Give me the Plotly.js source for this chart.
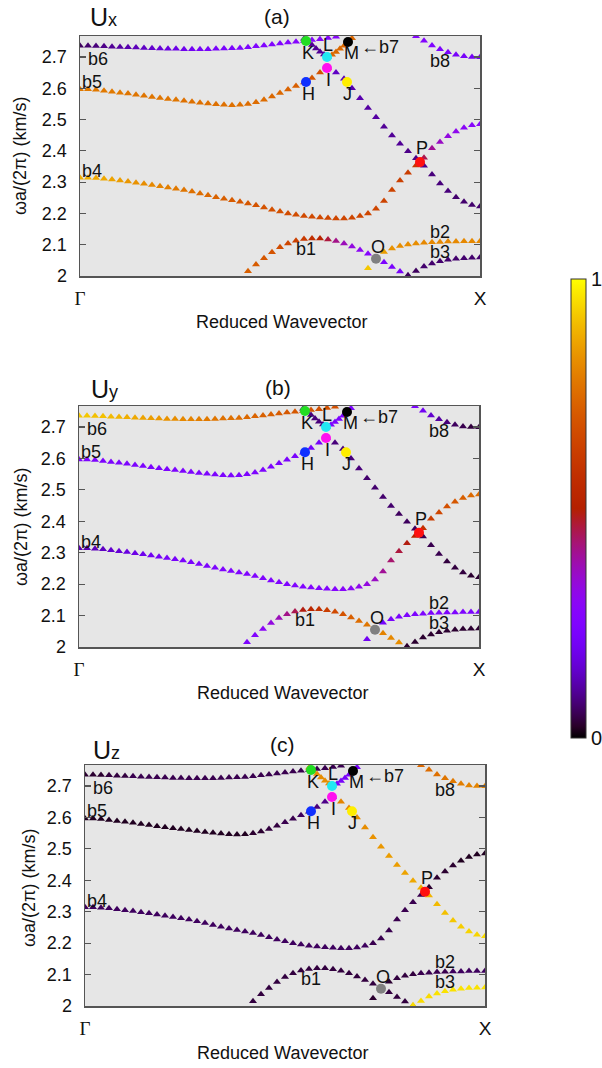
<!DOCTYPE html>
<html><head><meta charset="utf-8">
<script src="https://cdn.plot.ly/plotly-3.0.1.min.js"></script>
<style>body{margin:0;padding:0;background:#fff}#chart{width:602px;height:1068px}</style>
</head><body><div id="chart"></div>
<script>
// ---------------- data ----------------
const kGrid = [0,0.02,0.04,0.06,0.08,0.10,0.12,0.14,0.16,0.18,0.20,0.22,0.24,0.26,0.28,0.30,0.32,0.34,0.36,0.38,0.40,0.42,0.44,0.46,0.48,0.50,0.52,0.54,0.56,0.58,0.60,0.62,0.64,0.66,0.68,0.70,0.72,0.74,0.76,0.78,0.80,0.82,0.84,0.86,0.88,0.90,0.92,0.94,0.96,0.98,1.00];
const b6K = [0,0.02,0.04,0.06,0.08,0.10,0.12,0.14,0.16,0.18,0.20,0.22,0.24,0.26,0.28,0.30,0.32,0.34,0.36,0.38,0.40,0.42,0.44,0.46,0.48,0.50,0.52,0.54,0.56,0.58,0.60,0.62,0.64];
const b1K = [0.42,0.44,0.46,0.48,0.50,0.52,0.54,0.56,0.58,0.60,0.62,0.64,0.66,0.68,0.70,0.72,0.74,0.76,0.78,0.80,0.82];
const b2K = [0.72,0.74,0.76,0.78,0.80,0.82,0.84,0.86,0.88,0.90,0.92,0.94,0.96,0.98,1.00];
const b3K = [0.82,0.84,0.86,0.88,0.90,0.92,0.94,0.96,0.98,1.00];
const b8K = [0.84,0.86,0.88,0.90,0.92,0.94,0.96,0.98,1.00];
const b7K = [0.56,0.57,0.58,0.59,0.60,0.61,0.62,0.63,0.64,0.65,0.66,0.67,0.68];

// frequencies ωa/(2π) (km/s)
const b4F = [2.314,2.314,2.313,2.311,2.308,2.305,2.302,2.298,2.295,2.291,2.287,2.283,2.279,2.275,2.270,2.264,2.258,2.252,2.247,2.242,2.237,2.232,2.226,2.219,2.212,2.206,2.200,2.196,2.192,2.189,2.187,2.185,2.184,2.184,2.186,2.192,2.200,2.215,2.240,2.275,2.305,2.330,2.353,2.378,2.408,2.428,2.447,2.462,2.474,2.482,2.485];
const b5F = [2.597,2.597,2.595,2.592,2.589,2.586,2.583,2.579,2.576,2.572,2.569,2.566,2.563,2.560,2.557,2.554,2.551,2.549,2.547,2.546,2.547,2.550,2.555,2.563,2.574,2.585,2.596,2.607,2.618,2.633,2.650,2.665,2.650,2.630,2.600,2.568,2.537,2.507,2.477,2.449,2.423,2.399,2.376,2.352,2.324,2.296,2.272,2.252,2.237,2.227,2.222];
const b6F = [2.736,2.736,2.735,2.734,2.733,2.732,2.731,2.730,2.729,2.728,2.727,2.726,2.726,2.725,2.725,2.725,2.725,2.726,2.727,2.728,2.729,2.731,2.734,2.737,2.740,2.743,2.746,2.749,2.751,2.754,2.757,2.761,2.765];
const b1F = [2.015,2.037,2.057,2.076,2.092,2.104,2.113,2.118,2.120,2.120,2.117,2.112,2.104,2.094,2.083,2.071,2.058,2.044,2.029,2.014,2.000];
const b2F = [2.025,2.056,2.077,2.088,2.096,2.101,2.104,2.106,2.108,2.109,2.110,2.110,2.111,2.111,2.111];
const b3F = [2.002,2.016,2.030,2.040,2.047,2.052,2.055,2.057,2.058,2.059];
const b8F = [2.766,2.752,2.737,2.725,2.715,2.707,2.702,2.700,2.699];
const b7F = [2.758,2.748,2.738,2.727,2.717,2.708,2.701,2.707,2.716,2.726,2.736,2.747,2.760];

// polarization fractions, panel (a) Ux
const uxB4 = [.88,.88,.87,.87,.86,.85,.84,.83,.82,.81,.80,.79,.78,.77,.76,.75,.74,.73,.72,.71,.70,.70,.69,.69,.68,.68,.67,.67,.66,.66,.66,.65,.65,.65,.65,.65,.65,.65,.64,.64,.63,.62,.60,.45,.40,.36,.33,.31,.29,.28,.28];
const uxB5 = [.78,.78,.78,.78,.78,.78,.77,.77,.77,.77,.77,.77,.77,.76,.76,.76,.76,.76,.76,.76,.76,.75,.75,.75,.74,.74,.73,.72,.71,.70,.69,.68,.14,.13,.12,.12,.11,.11,.10,.10,.10,.09,.09,.09,.08,.08,.08,.07,.07,.07,.07];
const uxB6 = [.06,.07,.08,.09,.10,.11,.12,.13,.14,.15,.16,.17,.18,.19,.20,.21,.22,.22,.23,.23,.24,.24,.25,.25,.26,.26,.26,.27,.27,.27,.28,.28,.28];
const uxB1 = [.72,.71,.70,.69,.67,.65,.63,.61,.57,.52,.46,.41,.37,.33,.30,.27,.25,.24,.23,.22,.22];
const uxB2 = [.92,.88,.85,.83,.82,.82,.82,.81,.81,.81,.81,.81,.81,.81,.81];
const uxB3 = [.06,.06,.07,.07,.07,.07,.07,.07,.07,.07];
const uxB8 = [.27,.26,.25,.24,.23,.22,.22,.21,.21];
const uxB7 = [.10,.10,.10,.10,.10,.10,.10,.74,.74,.74,.74,.74,.74];

// panel (b) Uy
const uyB4 = [.12,.12,.13,.14,.15,.16,.17,.18,.19,.20,.21,.22,.22,.23,.23,.24,.24,.24,.25,.25,.25,.25,.25,.25,.25,.25,.25,.25,.25,.26,.26,.26,.27,.28,.29,.31,.33,.36,.40,.43,.46,.49,.52,.58,.62,.65,.68,.70,.72,.74,.75];
const uyB5 = [.24,.24,.24,.24,.24,.24,.24,.24,.24,.24,.24,.24,.24,.24,.24,.24,.24,.24,.24,.24,.24,.24,.24,.24,.24,.23,.23,.23,.23,.22,.22,.22,.08,.08,.08,.08,.07,.07,.07,.07,.06,.06,.06,.05,.05,.05,.04,.04,.04,.03,.03];
const uyB6 = [.92,.92,.91,.91,.90,.89,.88,.87,.86,.85,.84,.83,.82,.81,.80,.79,.78,.77,.76,.76,.75,.74,.73,.72,.72,.71,.70,.70,.69,.69,.68,.68,.68];
const uyB1 = [.24,.26,.29,.33,.37,.41,.45,.49,.54,.58,.62,.66,.69,.72,.75,.77,.79,.80,.81,.82,.82];
const uyB2 = [.20,.21,.22,.23,.23,.24,.24,.24,.24,.24,.24,.24,.24,.24,.24];
const uyB3 = [.03,.03,.03,.03,.03,.03,.03,.03,.03,.03];
const uyB8 = [.24,.20,.15,.11,.08,.06,.05,.04,.04];
const uyB7 = [.08,.08,.08,.08,.08,.08,.08,.24,.24,.24,.24,.24,.24];

// panel (c) Uz
const uzB4 = [.06,.06,.06,.06,.06,.06,.06,.06,.06,.06,.06,.06,.06,.06,.06,.06,.06,.06,.06,.06,.06,.06,.06,.06,.06,.06,.06,.06,.06,.06,.06,.06,.06,.06,.06,.06,.05,.05,.05,.05,.05,.05,.05,.03,.03,.03,.03,.02,.02,.02,.02];
const uzB5 = [.02,.02,.02,.02,.02,.02,.02,.02,.02,.02,.02,.02,.02,.02,.02,.02,.02,.02,.02,.02,.02,.03,.03,.04,.04,.05,.05,.06,.07,.08,.09,.10,.80,.81,.82,.82,.83,.84,.85,.85,.86,.87,.88,.89,.90,.91,.92,.93,.94,.94,.95];
const uzB6 = [.03,.03,.03,.04,.04,.04,.05,.05,.05,.05,.05,.05,.05,.05,.05,.05,.05,.05,.05,.05,.05,.05,.05,.05,.05,.05,.05,.05,.05,.05,.05,.05,.05];
const uzB1 = [.04,.04,.04,.04,.04,.04,.04,.04,.04,.04,.04,.04,.04,.04,.04,.04,.04,.04,.04,.04,.04];
const uzB2 = [.03,.03,.03,.04,.04,.04,.05,.05,.05,.05,.06,.06,.06,.06,.06];
const uzB3 = [.95,.95,.95,.96,.96,.96,.96,.96,.96,.96];
const uzB8 = [.74,.75,.76,.77,.78,.79,.80,.80,.80];
const uzB7 = [.82,.82,.82,.82,.82,.82,.82,.22,.22,.22,.22,.22,.22];

// labelled points
const ptNames = ['K','L','M','H','I','J','P','O'];
const ptK = [0.565,0.6175,0.67,0.565,0.6175,0.6675,0.85,0.74];
const ptF = [2.751,2.700,2.748,2.620,2.665,2.620,2.364,2.055];
const ptColors = ['#22dd22','#22e8f2','#000000','#1030ff','#ff10f0','#ffee00','#ff1010','#808080'];

// band labels
const bandNames = ['b1','b2','b3','b4','b5','b6','b8','←b7'];
const bandLabK = [0.565,0.90,0.90,0.03,0.03,0.045,0.90,0.75];
const bandLabF = [2.086,2.140,2.077,2.335,2.620,2.693,2.687,2.731];

const yTickVals = [2,2.1,2.2,2.3,2.4,2.5,2.6,2.7];
const yTickText = ['2','2.1','2.2','2.3','2.4','2.5','2.6','2.7'];
const xTickVals = [0,1];
const xTickText = ['<span style="font-family:Liberation Serif,serif">Γ</span>','X'];
const panelComp = ['x','y','z'];
const panelTags = ['(a)','(b)','(c)'];
const cbTickVals = [0,1];
const cbDashVals = [0.2,0.4,0.6,0.8];

// ---------------- layout / build ----------------
const W = 602, H = 1068;
const px = v => v / W, py = v => 1 - v / H;

const bandSets = [
  {k:kGrid, f:b4F, c:[uxB4,uyB4,uzB4]},
  {k:kGrid, f:b5F, c:[uxB5,uyB5,uzB5]},
  {k:b6K,   f:b6F, c:[uxB6,uyB6,uzB6]},
  {k:b1K,   f:b1F, c:[uxB1,uyB1,uzB1]},
  {k:b2K,   f:b2F, c:[uxB2,uyB2,uzB2]},
  {k:b3K,   f:b3F, c:[uxB3,uyB3,uzB3]},
  {k:b8K,   f:b8F, c:[uxB8,uyB8,uzB8]},
  {k:b7K,   f:b7F, c:[uxB7,uyB7,uzB7]}
];

// pixel boxes of the three plot areas
const boxes = [
  {x0:80, x1:480, y0:36,  y1:276,  title:[88,17],  tag:[277,17],  ytitle:[20,156], xtitle:[281,322]},
  {x0:79, x1:479, y0:406, y1:647,  title:[89,389], tag:[278,387], ytitle:[21,527], xtitle:[282,693]},
  {x0:85, x1:485, y0:765, y1:1006, title:[91,750], tag:[282,744], ytitle:[29,888], xtitle:[282,1053]}
];
const ptOffsets = {K:[2,-12],L:[1,12],M:[3,-11],H:[2,-12],I:[1,-12],J:[0,-12],P:[2,14],O:[2,12]};

function gnu(v){
  const r = Math.sqrt(v), g = v*v*v, b = Math.max(0, Math.sin(2*Math.PI*v));
  return 'rgb(' + Math.round(r*255) + ',' + Math.round(g*255) + ',' + Math.round(b*255) + ')';
}
const palette = [];
for (let i = 0; i <= 40; i++) palette.push([i/40, gnu(i/40)]);

const traces = [];
const layout = {
  width: W, height: H,
  margin: {l:0, r:0, t:0, b:0},
  paper_bgcolor: '#ffffff',
  plot_bgcolor: '#e6e6e6',
  font: {family: 'Liberation Sans, Arial, sans-serif', color: '#111', size: 18},
  showlegend: false,
  annotations: [],
  shapes: [],
  coloraxis: {
    cmin: 0, cmax: 1, colorscale: palette,
    colorbar: {
      x: px(571), xanchor: 'left', y: py(279), yanchor: 'top',
      len: 459 / H, lenmode: 'fraction', thickness: 15, thicknessmode: 'pixels',
      outlinewidth: 1, outlinecolor: '#333', xpad: 0, ypad: 0,
      tickvals: cbTickVals, ticktext: cbTickVals.map(String), ticks: '',
      tickfont: {size: 20, color: '#111'}, ticklabelstandoff: 1
    }
  }
};

boxes.forEach((b, p) => {
  const s = p === 0 ? '' : String(p + 1);
  const xa = 'x' + s, ya = 'y' + s;
  layout['xaxis' + s] = {
    domain: [px(b.x0), px(b.x1)], range: [0, 1], anchor: ya,
    tickvals: xTickVals, ticktext: xTickText, ticks: '',
    showline: true, mirror: true, linecolor: '#555', linewidth: 1.5,
    showgrid: false, zeroline: false, fixedrange: true,
    tickfont: {size: 19, color: '#111'}, ticklabelstandoff: 5
  };
  layout['yaxis' + s] = {
    domain: [py(b.y1), py(b.y0)], range: [2, 2.767], anchor: xa,
    tickvals: yTickVals, ticktext: yTickText, ticks: 'inside', ticklen: 6,
    tickcolor: '#555', tickwidth: 1.2,
    showline: true, mirror: 'ticks', linecolor: '#555', linewidth: 1.5,
    showgrid: false, zeroline: false, fixedrange: true,
    tickfont: {size: 18, color: '#111'}, ticklabelstandoff: 8
  };

  bandSets.forEach(bs => {
    traces.push({
      type: 'scatter', mode: 'markers', x: bs.k, y: bs.f, xaxis: xa, yaxis: ya,
      marker: {symbol: 'triangle-up', size: 7, color: bs.c[p], coloraxis: 'coloraxis', line: {width: 0}},
      hoverinfo: 'skip'
    });
  });
  traces.push({
    type: 'scatter', mode: 'markers', x: ptK, y: ptF, xaxis: xa, yaxis: ya,
    marker: {symbol: 'circle', size: 10, color: ptColors, line: {width: 0}},
    hoverinfo: 'skip'
  });

  ptNames.forEach((n, i) => {
    layout.annotations.push({
      xref: xa, yref: ya, x: ptK[i], y: ptF[i], text: n, showarrow: false,
      xshift: ptOffsets[n][0], yshift: ptOffsets[n][1], font: {size: 18, color: '#111'}
    });
  });
  bandNames.forEach((n, i) => {
    layout.annotations.push({
      xref: xa, yref: ya, x: bandLabK[i], y: bandLabF[i], text: n, showarrow: false,
      font: {size: 18, color: '#111'}
    });
  });

  layout.annotations.push({
    xref: 'paper', yref: 'paper', x: px(b.title[0]), y: py(b.title[1]),
    xanchor: 'left', yanchor: 'middle', showarrow: false,
    text: 'U<span style="font-size:18px">' + panelComp[p] + '</span>', font: {size: 25, color: '#111'}
  });
  layout.annotations.push({
    xref: 'paper', yref: 'paper', x: px(b.tag[0]), y: py(b.tag[1]),
    xanchor: 'center', yanchor: 'middle', showarrow: false,
    text: panelTags[p], font: {size: 21, color: '#111'}
  });
  layout.annotations.push({
    xref: 'paper', yref: 'paper', x: px(b.ytitle[0]), y: py(b.ytitle[1]),
    xanchor: 'center', yanchor: 'middle', showarrow: false, textangle: -90,
    text: 'ωa/(2π) (km/s)', font: {size: 18, color: '#111'}
  });
  layout.annotations.push({
    xref: 'paper', yref: 'paper', x: px(b.xtitle[0]), y: py(b.xtitle[1]),
    xanchor: 'center', yanchor: 'middle', showarrow: false,
    text: 'Reduced Wavevector', font: {size: 18, color: '#111'}
  });
});

cbDashVals.forEach(v => {
  const yy = 738 - v * 459;
  layout.shapes.push({
    type: 'line', xref: 'paper', yref: 'paper',
    x0: px(571), x1: px(586), y0: py(yy), y1: py(yy),
    line: {color: '#111', width: 1.2, dash: '4px,3px'}
  });
});

Plotly.newPlot('chart', traces, layout, {staticPlot: true, displayModeBar: false});
</script></body></html>
